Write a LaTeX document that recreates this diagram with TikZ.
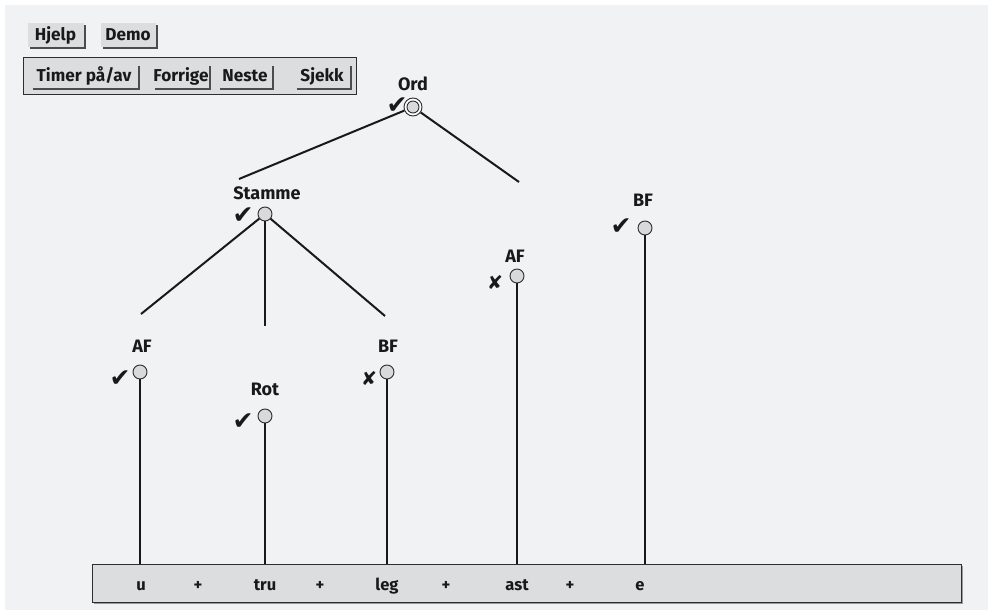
\documentclass[tikz,border=0pt]{standalone}
\usepackage{fontspec}
\setmainfont{Fira Sans}
\newfontfamily\symfont{DejaVu Sans}
\usetikzlibrary{shadows}
\definecolor{bg}{HTML}{F1F2F4}
\definecolor{btnfill}{HTML}{DCDDDF}
\definecolor{dotfill}{HTML}{D9D9DB}
\definecolor{edgec}{HTML}{2E2E2E}
\tikzset{
  lbl/.style={font=\fontsize{18}{18}\selectfont\bfseries, inner sep=0pt, anchor=base, text=black!90},
  wlbl/.style={font=\fontsize{16.5}{16.5}\selectfont\bfseries, inner sep=0pt, anchor=base, text=black!90},
  btnlbl/.style={font=\fontsize{17.2}{17.2}\selectfont\bfseries, text=black!90},
  dot/.style={circle, draw=edgec, fill=dotfill, line width=0.9pt, minimum size=14pt, inner sep=0pt},
  okmark/.style={font=\symfont\fontsize{25}{25}\selectfont, inner sep=0pt, text=black!90},
  nomark/.style={font=\symfont\fontsize{19}{19}\selectfont, inner sep=0pt, text=black!90},
  link/.style={line width=2pt, black!90},
  btnbox/.style={btnlbl, fill=btnfill, inner sep=0pt,
    general shadow={shadow xshift=2pt, shadow yshift=-2pt, fill=black!70}},
  panel/.style={draw=edgec, fill=btnfill, line width=1.3pt, inner sep=0pt}
}
\begin{document}
\begin{tikzpicture}[x=1pt,y=-1pt]
\useasboundingbox (0,0) rectangle (988,610);
\fill[white] (0,0) rectangle (988,610);
\fill[bg] (5,5) rectangle (988,610);

% top buttons
\node[btnbox, minimum width=56pt, minimum height=24pt] (hjelp) at (55.5,35) {Hjelp};
\node[btnbox, minimum width=55pt, minimum height=24pt] (demo) at (128,35) {Demo};
\node[panel, minimum width=333pt, minimum height=37pt] (toolbar) at (190,76) {};
\node[btnbox, minimum width=107pt, minimum height=23pt] (timer) at (84,76) {Timer på/av};
\node[btnbox, minimum width=54pt, minimum height=23pt] (forrige) at (181,76) {Forrige};
\node[btnbox, minimum width=54pt, minimum height=23pt] (neste) at (245,76) {Neste};
\node[btnbox, minimum width=55pt, minimum height=23pt] (sjekk) at (322,76) {Sjekk};

% bottom bar
\node[panel, minimum width=869pt, minimum height=38pt,
  general shadow={shadow xshift=1pt, shadow yshift=-1pt, fill=black!40}] (bar) at (527,583.5) {};

% tree nodes
\node[circle, draw=edgec, fill=white, line width=0.9pt, minimum size=18pt, inner sep=0pt] (ord) at (413,107) {};
\node[dot, minimum size=12pt] (ordin) at (ord) {};
\node[dot] (stamme) at (265,214) {};
\node[dot] (afa) at (140,372) {};
\node[dot] (rot) at (265,416) {};
\node[dot] (bfa) at (387,372) {};
\node[dot] (afb) at (517,276) {};
\node[dot] (bfb) at (645,228) {};

% labels
\node[lbl] (ordl) at (413,91) {Ord};
\node[lbl] (stammel) at (267,199) {Stamme};
\node[lbl] (afal) at (142,352) {AF};
\node[lbl] (rotl) at (265,395) {Rot};
\node[lbl] (bfal) at (388,352) {BF};
\node[lbl] (afbl) at (515,262) {AF};
\node[lbl] (bfbl) at (643,206) {BF};

% check / cross marks
\node[okmark] (ordc) at (397,106) {✔};
\node[okmark] (stammec) at (243,216) {✔};
\node[okmark] (afac) at (120,379) {✔};
\node[okmark] (rotc) at (243,422) {✔};
\node[nomark] (bfac) at (369,378) {✘};
\node[nomark] (afbc) at (495,282) {✘};
\node[okmark] (bfbc) at (621,227) {✔};

% dangling slot ends
\coordinate (ordL) at (239,179);
\coordinate (ordR) at (519,182);
\coordinate (stL) at (141,314);
\coordinate (stM) at (265,326);
\coordinate (stR) at (385,316);

\draw[link] (ord) -- (ordL);
\draw[link] (ord) -- (ordR);
\draw[link] (stamme) -- (stL);
\draw[link] (stamme) -- (stM);
\draw[link] (stamme) -- (stR);

% vertical lines down to the bar
\foreach \n in {afa,rot,bfa,afb,bfb}{
  \draw[link] (\n.south) -- (\n.south |- bar.north);
}

% word parts
\node[wlbl] (w1) at (141,590) {u};
\node[wlbl] (p1) at (198,590) {+};
\node[wlbl] (w2) at (265,590) {tru};
\node[wlbl] (p2) at (320,590) {+};
\node[wlbl] (w3) at (387,590) {leg};
\node[wlbl] (p3) at (446,590) {+};
\node[wlbl] (w4) at (517,590) {ast};
\node[wlbl] (p4) at (570,590) {+};
\node[wlbl] (w5) at (640,590) {e};
\end{tikzpicture}
\end{document}
